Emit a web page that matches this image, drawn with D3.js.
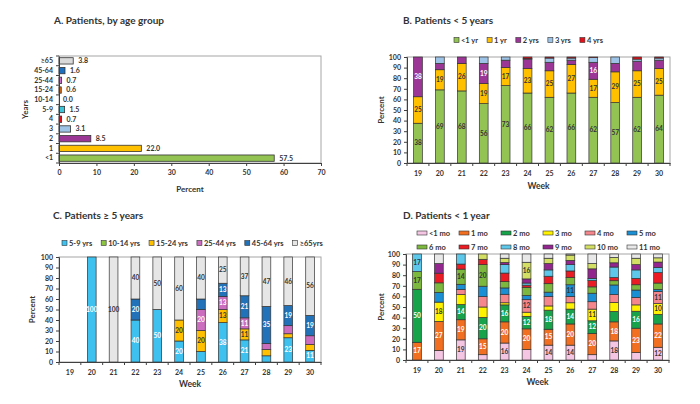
<!DOCTYPE html>
<html><head><meta charset="utf-8">
<script src="https://cdn.jsdelivr.net/npm/d3@7"></script>
<style>
body{margin:0;background:#fff;}
text{font-family:Lato,"Open Sans",sans-serif;font-weight:bold;fill:#333;}
</style>
</head><body><svg id="c" width="700" height="404"></svg>
<script>
// ---------- DATA ----------
// Panel A
const ageGroups = ["<1","1","2","3","4","5-9","10-14","15-24","25-44","45-64","≥65"];
const agePercents = [57.5,22.0,8.5,3.1,0.7,1.5,0.0,0.6,0.7,1.6,3.8];
const percentTicksA = [0,10,20,30,40,50,60,70];

// shared
const weeks = ["19","20","21","22","23","24","25","26","27","28","29","30"];
const percentTicks = [0,10,20,30,40,50,60,70,80,90,100];

// Panel B (patients < 5 years)
const bSeries = ["<1 yr","1 yr","2 yrs","3 yrs","4 yrs"];
const bLt1yr = [37.5,69,68,56,73,66,62,66,62,57,62,64];
const b1yr   = [25,19,26,19,17,23,25,27,17,29,25,25];
const b2yrs  = [37.5,6,6,19,7,9,8,4,16,8,9,8];
const b3yrs  = [0,6,0,6,3,0.5,4,2,4.5,6,2,2];
const b4yrs  = [0,0,0,0,0,1.5,1,1,0.5,0,2,1];

// Panel C (patients >= 5 years)
const cSeries = ["5-9 yrs","10-14 yrs","15-24 yrs","25-44 yrs","45-64 yrs","≥65yrs"];
const c5to9   = [0,100,0,40,50,20,10,37.5,21.05,5.9,23.1,11.1];
const c10to14 = [0,0,0,0,0,0,0,0,0,0,0,0];
const c15to24 = [0,0,0,0,0,20,20,12.5,10.5,5.9,3.8,5.6];
const c25to44 = [0,0,0,0,0,0,20,12.5,10.5,5.9,7.7,8.3];
const c45to64 = [0,0,0,20,0,0,10,12.5,21.05,35.3,19.2,19.4];
const c65plus = [0,0,100,40,50,60,40,25,36.9,47.0,46.2,55.6];

// Panel D (patients < 1 year)
const dSeries = ["<1 mo","1 mo","2 mo","3 mo","4 mo","5 mo","6 mo","7 mo","8 mo","9 mo","10 mo","11 mo"];
const dLt1mo = [0,9.1,19.0,5,16,9.8,14,14,5,18,7,12];
const d1mo   = [16.7,27.3,19.0,15,20,19.6,15,20,20,18,23,22];
const d2mo   = [50,0,14.3,20.2,16,11.8,18,14,12,9.8,16,9];
const d3mo   = [0,18.2,9.5,9.8,2,3.9,4,6,11,8.5,6,10.2];
const d4mo   = [0,0,4.8,9.8,8,11.8,9,6,7,7.5,7,11.4];
const d5mo   = [0,9.1,4.8,9.8,6,3.9,4,11,8,9,7,2];
const d6mo   = [16.7,9.1,14.3,20.4,6,7.8,8,7,6,4,5,6];
const d7mo   = [0,9.1,4.8,5,8,2,7,6,6,3,6,9.8];
const d8mo   = [16.6,0,9.5,0,8,2,6,6,2,9.9,8,5];
const d9mo   = [0,9.1,0,0,2,3.9,6,4,9,4,5,5];
const d10mo  = [0,0,0,5,4,15.7,5,5,5,5,6,4];
const d11mo  = [0,9.0,0,0,4,7.8,4,1,9,3.3,4,3.6];

// ---------- STYLES ----------
const ageColors = ["#92c353","#ffc000","#9b3596","#9dc3e6","#e3101a","#3ec6d8","#92c353","#e46c0a","#cc6dcc","#1f6fbf","#d9d9d9"];
const bColors = ["#92c353","#ffc000","#9b3596","#9dc3e6","#e3101a"];
const bLabelColors = ["#333","#333","#fff","#333","#333"];
const cColors = ["#3ec1ef","#8cc63f","#ffc000","#cc6dbf","#2272b9","#e6e6e6"];
const cLabelColors = ["#fff","#333","#333","#fff","#fff","#333"];
const dColors = ["#f5c6e4","#f26f21","#16a34a","#fff200","#f4868c","#1a8fd3","#7cb83e","#ec1c24","#5dc8ea","#93278f","#d3df63","#e8e8e8"];
const dLabelColors = ["#333","#fff","#fff","#333","#333","#333","#333","#fff","#333","#fff","#333","#333"];

const svg = d3.select("#c");
const LABEL_MIN = 10.2;

function styleAxis(g){
  g.select(".domain").attr("stroke","#404040").attr("stroke-width",1);
  g.selectAll(".tick line").attr("stroke","#404040");
  g.selectAll(".tick text").attr("font-size","7px").attr("fill","#333")
   .attr("font-family","Lato, sans-serif").attr("font-weight","bold");
}

function frame(b){
  svg.append("rect").attr("x",b.x0).attr("y",b.y0).attr("width",b.x1-b.x0).attr("height",b.y1-b.y0)
    .attr("fill","none").attr("stroke","#a6a6a6").attr("stroke-width",1);
}

function title(x,y,t){
  svg.append("text").attr("x",x).attr("y",y).attr("font-size","10px").attr("fill","#404040").text(t);
}

// ---------- PANEL A ----------
(function(){
  const b = {x0:59,x1:321,y0:56,y1:163};
  title(54,24,"A.  Patients, by age group");
  frame(b);
  const x = d3.scaleLinear().domain([0,70]).range([b.x0,b.x1]);
  const y = d3.scaleBand().domain(ageGroups.slice().reverse()).range([b.y0,b.y1]).paddingInner(0.35).paddingOuter(0.175);
  const data = ageGroups.map((g,i)=>({g,v:agePercents[i],c:ageColors[i]}));
  svg.append("g").selectAll("rect").data(data.filter(d=>d.v>0)).join("rect")
    .attr("x",x(0)).attr("y",d=>y(d.g)).attr("width",d=>x(d.v)-x(0)).attr("height",y.bandwidth())
    .attr("fill",d=>d.c).attr("stroke","#333").attr("stroke-width",0.8);
  svg.append("g").selectAll("text").data(data).join("text")
    .attr("x",d=>x(d.v)+(d.v>0?5:4)).attr("y",d=>y(d.g)+y.bandwidth()/2).attr("dy","0.35em")
    .attr("font-size","7px").text(d=>d.v.toFixed(1));
  const ax = svg.append("g").attr("transform",`translate(0,${b.y1})`)
    .call(d3.axisBottom(x).tickValues(percentTicksA).tickSize(3).tickPadding(4));
  styleAxis(ax);
  const ay = svg.append("g").attr("transform",`translate(${b.x0},0)`)
    .call(d3.axisLeft(y).tickSize(0).tickPadding(6));
  styleAxis(ay);
  const step = y.step();
  svg.append("g").selectAll("line").data(d3.range(ageGroups.length+1)).join("line")
    .attr("x1",b.x0-3).attr("x2",b.x0).attr("y1",i=>b.y0+i*step).attr("y2",i=>b.y0+i*step).attr("stroke","#404040");
  svg.append("text").attr("x",(b.x0+b.x1)/2).attr("y",192).attr("text-anchor","middle").attr("font-size","8px").text("Percent");
  svg.append("text").attr("transform",`translate(28,${(b.y0+b.y1)/2}) rotate(-90)`).attr("text-anchor","middle").attr("font-size","8px").text("Years");
})();

// ---------- Stacked panel helper ----------
function stacked(cfg){
  const b = cfg.box;
  title(cfg.titleX,cfg.titleY,cfg.title);
  frame(b);
  const rows = weeks.map((w,i)=>{const r={week:w}; cfg.keys.forEach((k,j)=>r[k]=cfg.values[j][i]); return r;});
  const series = d3.stack().keys(cfg.keys)(rows);
  const x = d3.scaleBand().domain(weeks).range([b.x0,b.x1]).paddingInner(0.6).paddingOuter(0.3);
  const y = d3.scaleLinear().domain([0,100]).range([b.y1,b.y0]);
  const g = svg.append("g");
  series.forEach((s,si)=>{
    g.append("g").selectAll("rect").data(s.filter(d=>d.data[s.key]>0)).join("rect")
      .attr("x",d=>x(d.data.week)).attr("width",x.bandwidth())
      .attr("y",d=>y(d[1])).attr("height",d=>y(d[0])-y(d[1]))
      .attr("fill",cfg.colors[si]).attr("stroke","#333").attr("stroke-width",0.7);
  });
  series.forEach((s,si)=>{
    g.append("g").selectAll("text").data(s.filter(d=>d.data[s.key]>=LABEL_MIN)).join("text")
      .attr("x",d=>x(d.data.week)+x.bandwidth()/2).attr("y",d=>y((d[0]+d[1])/2)).attr("dy","0.35em")
      .attr("text-anchor","middle").attr("font-size","6.5px")
      .style("fill",cfg.labelColors[si])
      .text(d=>Math.round(d.data[s.key]));
  });
  const ay = svg.append("g").attr("transform",`translate(${b.x0},0)`)
    .call(d3.axisLeft(y).tickValues(percentTicks).tickSize(3).tickPadding(3));
  styleAxis(ay);
  const ax = svg.append("g").attr("transform",`translate(0,${b.y1})`)
    .call(d3.axisBottom(x).tickSize(0).tickPadding(8));
  styleAxis(ax);
  const step = x.step();
  svg.append("g").selectAll("line").data(d3.range(weeks.length+1)).join("line")
    .attr("x1",i=>b.x0+i*step).attr("x2",i=>b.x0+i*step).attr("y1",b.y1).attr("y2",b.y1+3).attr("stroke","#404040");
  svg.append("text").attr("x",(b.x0+b.x1)/2).attr("y",cfg.weekY).attr("text-anchor","middle").attr("font-size","8.5px").text("Week");
  svg.append("text").attr("transform",`translate(${cfg.pctX},${(b.y0+b.y1)/2}) rotate(-90)`).attr("text-anchor","middle").attr("font-size","8px").text("Percent");
  const lg = svg.append("g");
  cfg.legendRows.forEach((rowKeys,ri)=>{
    let cx = cfg.legendX;
    rowKeys.forEach((k)=>{
      const idx = cfg.keys.indexOf(k);
      const ly = cfg.legendY + ri*cfg.legendRowH;
      lg.append("rect").attr("x",cx).attr("y",ly-cfg.swH/2).attr("width",cfg.swW).attr("height",cfg.swH)
        .attr("fill",cfg.colors[idx]).attr("stroke","#333").attr("stroke-width",0.6);
      const t = lg.append("text").attr("x",cx+cfg.swW+2).attr("y",ly).attr("dy","0.35em").attr("font-size","7.5px").text(k);
      if (cfg.colW) cx += cfg.colW; else cx += cfg.swW+2+t.node().getComputedTextLength()+cfg.legendGap;
    });
  });
}

stacked({
  box:{x0:407,x1:670,y0:57,y1:163}, title:"B. Patients < 5 years", titleX:403, titleY:24,
  keys:bSeries, values:[bLt1yr,b1yr,b2yrs,b3yrs,b4yrs], colors:bColors, labelColors:bLabelColors,
  weekY:189, pctX:384,
  legendRows:[bSeries], legendX:454, legendY:40, legendRowH:0, swW:5, swH:5, legendGap:9
});

stacked({
  box:{x0:59,x1:321,y0:257,y1:362}, title:"C. Patients ≥ 5 years", titleX:53, titleY:219,
  keys:cSeries, values:[c5to9,c10to14,c15to24,c25to44,c45to64,c65plus], colors:cColors, labelColors:cLabelColors,
  weekY:387, pctX:35,
  legendRows:[cSeries], legendX:62, legendY:243, legendRowH:0, swW:5, swH:5, legendGap:9
});

stacked({
  box:{x0:406,x1:669,y0:254,y1:360}, title:"D. Patients < 1 year", titleX:403, titleY:219,
  keys:dSeries, values:[dLt1mo,d1mo,d2mo,d3mo,d4mo,d5mo,d6mo,d7mo,d8mo,d9mo,d10mo,d11mo], colors:dColors, labelColors:dLabelColors,
  weekY:385, pctX:384,
  legendRows:[dSeries.slice(0,6),dSeries.slice(6)], legendX:417, legendY:233, legendRowH:14, swW:10, swH:4, colW:42
});
</script>
</body></html>
